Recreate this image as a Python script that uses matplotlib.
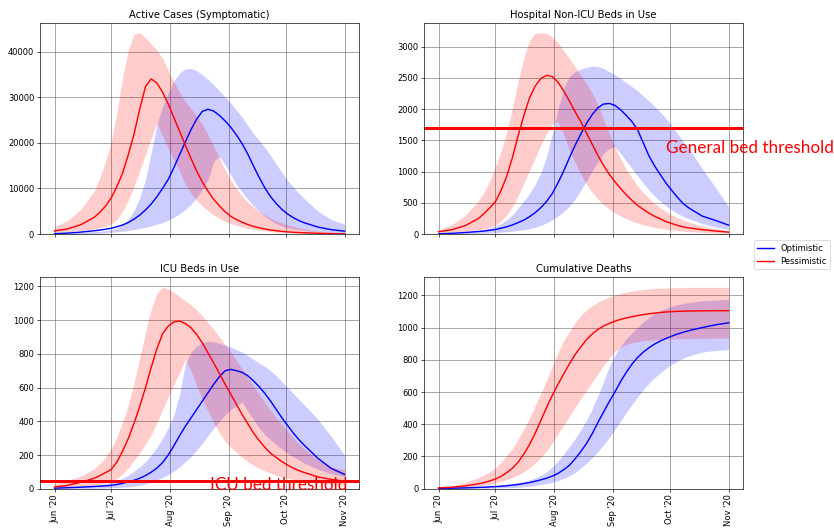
import datetime as dt

import matplotlib

matplotlib.use("Agg")
import matplotlib.dates as mdates
import matplotlib.pyplot as plt
import numpy as np

# --- data (days since 1 Jun 2020) --------------------------------------------

START = np.datetime64("2020-06-01")
DAYS = [0, 7, 14, 21, 24, 27, 30, 33, 36, 39, 42,
        45, 48, 51, 54, 57, 60, 63, 66, 69, 72, 75,
        78, 81, 84, 87, 90, 93, 96, 99, 102, 105, 108,
        111, 114, 117, 120, 123, 126, 129, 132, 139, 146, 153]

# Active cases (symptomatic)
active_opt = [100, 230, 450, 740, 900, 1080, 1300, 1630, 2020, 2580, 3300,
              4200, 5300, 6600, 8200, 10000, 12000, 14600, 17400, 20200, 22900, 25200,
              26900, 27350, 26950, 26000, 24800, 23400, 21700, 19800, 17500, 14900, 12400,
              10100, 8200, 6700, 5400, 4400, 3600, 2950, 2450, 1550, 980, 650]
active_opt_lo = [0, 30, 80, 170, 230, 310, 400, 520, 650, 830, 1020,
                 1250, 1500, 1800, 2150, 2550, 3100, 3700, 4500, 5400, 6500, 8000,
                 9800, 12000, 16000, 17000, 15200, 13000, 10900, 9200, 7600, 6200, 5000,
                 3900, 3000, 2300, 1750, 1400, 1150, 950, 800, 550, 350, 220]
active_opt_hi = [150, 280, 400, 560, 650, 780, 1000, 1400, 2100, 3300, 5200,
                 8000, 12000, 17800, 24000, 28000, 31000, 33600, 35300, 36200, 36300, 35800,
                 34900, 33900, 32700, 31400, 30000, 28700, 27200, 25600, 23800, 22000, 20500,
                 19000, 17200, 15300, 13500, 11700, 10300, 8900, 7700, 5000, 3200, 2200]
active_pes = [700, 1150, 2100, 3700, 4800, 6200, 8000, 10500, 13500, 17500, 22000,
              27500, 32300, 34000, 33100, 31100, 28500, 25500, 22500, 19500, 16600, 13800,
              11400, 9400, 7600, 6200, 4900, 3900, 3200, 2600, 2100, 1700, 1400,
              1130, 920, 750, 600, 500, 410, 340, 290, 190, 120, 80]
active_pes_lo = [400, 550, 800, 1150, 1400, 1750, 2200, 3300, 5000, 7500, 10500,
                 14000, 17500, 21000, 24300, 21500, 18800, 16300, 13800, 10900, 8900, 7400,
                 6200, 5100, 4200, 3400, 2800, 2300, 1900, 1550, 1270, 1030, 840,
                 690, 560, 460, 380, 310, 255, 210, 175, 115, 70, 45]
active_pes_hi = [1600, 3000, 5500, 9500, 12500, 16000, 20500, 27000, 34500, 40500, 43800,
                 44100, 43000, 41600, 40300, 38500, 35800, 33300, 31000, 29000, 27500, 25800,
                 24000, 21800, 19200, 16700, 14000, 11800, 9900, 8300, 7000, 5900, 5000,
                 4200, 3500, 2900, 2400, 2000, 1650, 1350, 1100, 650, 380, 200]

# Hospital non-ICU beds
hosp_opt = [5, 13, 26, 42, 50, 62, 75, 95, 118, 148, 185,
            225, 280, 345, 425, 525, 650, 820, 1010, 1220, 1420, 1600,
            1770, 1910, 2020, 2080, 2090, 2060, 1990, 1900, 1800, 1667, 1460,
            1250, 1090, 950, 815, 700, 590, 490, 420, 290, 220, 144]
hosp_opt_lo = [0, 3, 7, 12, 15, 20, 25, 31, 38, 46, 57,
               70, 88, 110, 140, 180, 230, 290, 360, 450, 560, 700,
               850, 1010, 1160, 1290, 1370, 1400, 1290, 1170, 1050, 930, 815,
               705, 610, 525, 450, 385, 330, 285, 245, 170, 115, 75]
hosp_opt_hi = [8, 18, 33, 55, 70, 95, 130, 170, 230, 310, 420,
               530, 650, 800, 980, 1250, 1600, 2000, 2330, 2520, 2600, 2640,
               2670, 2685, 2680, 2650, 2600, 2550, 2490, 2420, 2360, 2290, 2210,
               2130, 2040, 1950, 1850, 1730, 1610, 1480, 1370, 1050, 750, 440]
hosp_pes = [40, 70, 135, 250, 330, 420, 520, 700, 930, 1230, 1580,
            1900, 2180, 2370, 2490, 2540, 2520, 2430, 2290, 2130, 1960, 1800,
            1620, 1440, 1260, 1100, 960, 840, 730, 630, 540, 460, 395,
            335, 285, 245, 200, 170, 140, 115, 100, 72, 50, 32]
hosp_pes_lo = [20, 33, 48, 68, 82, 100, 140, 210, 310, 440, 610,
               820, 1020, 1220, 1430, 1610, 1760, 1800, 1600, 1340, 1150, 960,
               800, 670, 560, 470, 400, 340, 290, 245, 210, 178, 150,
               128, 108, 92, 78, 66, 56, 48, 41, 28, 19, 14]
hosp_pes_hi = [70, 150, 300, 530, 670, 850, 1080, 1330, 1640, 2020, 2450,
               2820, 3100, 3210, 3220, 3210, 3150, 3060, 2930, 2810, 2680, 2540,
               2410, 2260, 2070, 1840, 1600, 1400, 1200, 1040, 900, 770, 660,
               570, 490, 420, 360, 310, 265, 225, 195, 130, 85, 55]
GENERAL_BEDS = 1690

# ICU beds
icu_opt = [3, 6, 9, 13, 15, 17, 20, 25, 32, 40, 50,
           62, 78, 98, 122, 155, 200, 255, 315, 370, 420, 470,
           520, 570, 620, 665, 700, 708, 700, 690, 670, 640, 605,
           565, 520, 470, 420, 375, 330, 290, 255, 180, 120, 85]
icu_opt_lo = [0, 0, 1, 2, 3, 4, 6, 7, 9, 11, 14,
              20, 28, 40, 52, 65, 85, 105, 130, 160, 190, 230,
              270, 315, 360, 400, 440, 470, 495, 515, 460, 410, 360,
              320, 290, 260, 235, 210, 190, 170, 150, 115, 90, 71]
icu_opt_hi = [5, 9, 14, 21, 25, 30, 38, 48, 62, 80, 105,
              130, 160, 200, 245, 300, 360, 440, 560, 740, 810, 845,
              868, 874, 872, 864, 852, 840, 825, 810, 790, 768, 745,
              725, 700, 670, 635, 600, 565, 530, 495, 410, 310, 200]
icu_pes = [10, 20, 38, 62, 78, 96, 115, 160, 225, 300, 390,
           490, 600, 720, 830, 920, 965, 990, 995, 980, 955, 915,
           865, 805, 745, 685, 620, 560, 500, 440, 385, 330, 285,
           245, 210, 185, 160, 140, 122, 107, 95, 70, 55, 45]
icu_pes_lo = [5, 9, 14, 22, 27, 34, 45, 60, 90, 125, 170,
              215, 265, 320, 390, 470, 545, 620, 690, 765, 700, 610,
              530, 460, 390, 330, 280, 245, 215, 185, 160, 138, 120,
              105, 92, 80, 70, 62, 55, 48, 43, 34, 26, 20]
icu_pes_hi = [30, 50, 75, 120, 150, 190, 240, 310, 400, 500, 630,
              780, 930, 1065, 1160, 1195, 1185, 1165, 1140, 1115, 1090, 1060,
              1025, 985, 945, 900, 855, 810, 760, 710, 660, 610, 560,
              510, 465, 420, 380, 340, 300, 265, 235, 170, 130, 110]
ICU_BEDS = 47

# Cumulative deaths
deaths_opt = [2, 3, 5, 8, 9, 11, 13, 15, 18, 22, 26,
              32, 38, 46, 55, 65, 78, 95, 118, 145, 185, 230,
              280, 340, 410, 475, 540, 600, 665, 722, 773, 815, 848,
              875, 898, 917, 933, 947, 960, 971, 981, 1000, 1017, 1030]
deaths_opt_lo = [0, 0, 1, 2, 3, 3, 4, 5, 6, 7, 9,
                 12, 15, 20, 26, 32, 40, 51, 64, 80, 100, 128,
                 158, 192, 230, 272, 318, 368, 420, 472, 522, 570, 615,
                 655, 690, 720, 748, 772, 792, 810, 824, 848, 858, 864]
deaths_opt_hi = [3, 5, 8, 12, 14, 17, 20, 24, 28, 33, 39,
                 46, 55, 67, 83, 105, 135, 172, 215, 262, 310, 365,
                 425, 495, 575, 665, 755, 830, 885, 930, 968, 1002, 1035,
                 1064, 1088, 1106, 1120, 1132, 1142, 1150, 1156, 1166, 1171, 1175]
deaths_pes = [5, 9, 17, 30, 38, 48, 60, 77, 100, 128, 165,
              215, 275, 345, 425, 505, 580, 648, 712, 775, 832, 880,
              925, 960, 988, 1010, 1026, 1040, 1051, 1060, 1068, 1075, 1081,
              1086, 1090, 1094, 1097, 1099, 1101, 1102, 1103, 1104, 1105, 1105]
deaths_pes_lo = [2, 5, 9, 16, 21, 28, 36, 45, 57, 70, 86,
                 105, 130, 160, 195, 235, 285, 340, 395, 450, 505, 560,
                 610, 660, 712, 765, 812, 850, 878, 896, 906, 913, 918,
                 922, 925, 927, 929, 930, 931, 932, 933, 934, 935, 935]
deaths_pes_hi = [8, 18, 38, 68, 85, 105, 130, 165, 210, 250, 308,
                 372, 440, 515, 595, 672, 760, 845, 920, 975, 1030, 1075,
                 1110, 1135, 1158, 1176, 1190, 1202, 1212, 1220, 1227, 1233, 1237,
                 1240, 1243, 1245, 1246, 1247, 1248, 1249, 1250, 1250, 1250, 1250]

PANELS = [
    ("Active Cases (Symptomatic)", active_opt, active_opt_lo, active_opt_hi, active_pes, active_pes_lo, active_pes_hi),
    ("Hospital Non-ICU Beds in Use", hosp_opt, hosp_opt_lo, hosp_opt_hi, hosp_pes, hosp_pes_lo, hosp_pes_hi),
    ("ICU Beds in Use", icu_opt, icu_opt_lo, icu_opt_hi, icu_pes, icu_pes_lo, icu_pes_hi),
    ("Cumulative Deaths", deaths_opt, deaths_opt_lo, deaths_opt_hi, deaths_pes, deaths_pes_lo, deaths_pes_hi),
]

dates = (START + np.array(DAYS, dtype="timedelta64[D]")).astype("datetime64[D]").astype(dt.datetime)

fig, axes = plt.subplots(2, 2, figsize=(13.9, 8.817), dpi=60, sharex=True)
fig.subplots_adjust(left=0.048, right=0.891, top=0.957, bottom=0.0762, wspace=0.204, hspace=0.204)

for ax, (title, opt, opt_lo, opt_hi, pes, pes_lo, pes_hi) in zip(axes.flat, PANELS):
    ax.fill_between(dates, opt_lo, opt_hi, color="blue", alpha=0.2, lw=0)
    ax.fill_between(dates, pes_lo, pes_hi, color="red", alpha=0.2, lw=0)
    ax.plot(dates, opt, color="blue", lw=1.7, label="Optimistic")
    ax.plot(dates, pes, color="red", lw=1.7, label="Pessimistic")
    ax.set_title(title)
    ax.set_ylim(bottom=0)
    ax.grid(True, color="#707070", lw=0.9, alpha=0.8)
    ax.set_axisbelow(True)

# bed capacity thresholds
ax = axes[0, 1]
ax.axhline(GENERAL_BEDS, color="red", lw=3.6)
ax.text(dt.datetime(2020, 9, 29), 1300, "General bed threshold", color="red",
        fontsize=20.5, family="Lato", va="baseline", clip_on=False)

ax = axes[1, 0]
ax.axhline(ICU_BEDS, color="red", lw=3.6)
ax.text(dt.datetime(2020, 8, 22), -5, "ICU bed threshold", color="red",
        fontsize=20.5, family="Lato", va="baseline", clip_on=False)

for ax in axes[1]:
    ax.xaxis.set_major_locator(mdates.MonthLocator())
    ax.xaxis.set_major_formatter(mdates.DateFormatter("%b '%y"))
    for lbl in ax.get_xticklabels():
        lbl.set_rotation(90)

handles, labels = axes[0, 0].get_legend_handles_labels()
fig.legend(handles, labels, loc="upper left", bbox_to_anchor=(0.904, 0.546), borderaxespad=0)

fig.savefig("out.png", dpi=60)
